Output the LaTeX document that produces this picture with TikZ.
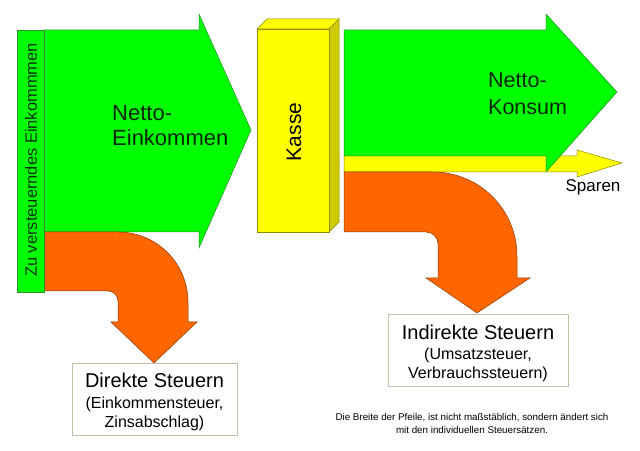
\documentclass[tikz,border=0pt]{standalone}
\usepackage{fontspec}
\setmainfont{Liberation Sans}
\definecolor{lgreen}{HTML}{00FF00}
\definecolor{gline}{HTML}{2E8B2E}
\definecolor{orng}{HTML}{FF6600}
\definecolor{oline}{HTML}{8B3A00}
\definecolor{ylw}{HTML}{FFFF00}
\definecolor{yside}{HTML}{CCCC00}
\definecolor{yline}{HTML}{8C8C00}
\definecolor{boxline}{HTML}{C8BEA8}
\tikzset{
  greenshape/.style={fill=lgreen, draw=gline, line width=0.5pt, line join=miter},
  orangeshape/.style={fill=orng, draw=oline, line width=0.5pt},
  yellowshape/.style={fill=ylw, draw=yline, line width=0.5pt},
  infobox/.style={draw=boxline, fill=white, line width=0.8pt, inner sep=0pt},
  bigtxt/.style={font=\fontsize{20}{24}\selectfont, inner sep=0pt},
  smalltxt/.style={font=\fontsize{16}{19}\selectfont, inner sep=0pt},
}
\begin{document}
\begin{tikzpicture}[x=1pt,y=1pt]
\useasboundingbox (0,0) rectangle (640,450);
\fill[white] (0,0) rectangle (640,450);

% left arrow: Netto-Einkommen
\draw[greenshape] (44,420) -- (199,420) -- (199,436) -- (251,320) -- (199,202) -- (199,218) -- (44,218) -- cycle;
% left orange bent arrow
\draw[orangeshape] (44,218) -- (118,218) arc[start angle=90, end angle=0, radius=70] -- (188,128) -- (197,128) -- (154,87) -- (111,128) -- (118,128) -- (118,149) arc[start angle=0, end angle=90, radius=10] -- (44,159) -- cycle;
% narrow green bar
\draw[greenshape] (17,158) rectangle (44,420);
\node[rotate=90, font=\fontsize{16.5}{19}\selectfont, inner sep=0pt, text=black!80!green] (zve) at (31,290) {Zu versteuerndes Einkommmen};
\node[bigtxt, font=\fontsize{22}{25}\selectfont, align=left, anchor=west, text=black!85!green] (ne) at (112,324.5) {Netto-\\Einkommen};

% Kasse box
\draw[yellowshape] (257,421) -- (267,431) -- (339,431) -- (329,421) -- cycle;
\draw[yellowshape, fill=yside] (329,421) -- (339,431) -- (339,228) -- (329,218) -- cycle;
\draw[yellowshape] (257,218) rectangle (329,421);
\node[rotate=90, font=\fontsize{21}{24}\selectfont, inner sep=0pt] (kasse) at (294,318) {Kasse};

% yellow Sparen arrow
\draw[yellowshape] (344,294) -- (577,294) -- (577,300) -- (622,287) -- (577,273) -- (577,278) -- (344,278) -- cycle;
% green Netto-Konsum arrow
\draw[greenshape] (344,420) -- (546,420) -- (546,436) -- (617,358) -- (546,278) -- (546,294) -- (344,294) -- cycle;
\node[font=\fontsize{21.5}{27}\selectfont, inner sep=0pt, align=left, anchor=west, text=black!85!green] (nk) at (488,356.5) {Netto-\\Konsum};
\node[font=\fontsize{17}{20}\selectfont, inner sep=0pt] (sparen) at (593,263) {Sparen};

% right orange bent arrow
\draw[orangeshape] (344,278) -- (433,278) arc[start angle=90, end angle=0, radius=84] -- (517,172) -- (530,172) -- (477,137) -- (426,172) -- (438,172) -- (438,206) arc[start angle=0, end angle=90, radius=12] -- (344,218) -- cycle;

% Direkte Steuern box
\node[infobox, minimum width=165pt, minimum height=72pt] (dbox) at (154.5,51) {};
\node[bigtxt] (dt) at (154.5,70) {Direkte Steuern};
\node[smalltxt] (d1) at (154.5,46) {(Einkommensteuer,};
\node[smalltxt] (d2) at (154.5,27) {Zinsabschlag)};

% Indirekte Steuern box
\node[infobox, minimum width=180pt, minimum height=72pt] (ibox) at (478,100) {};
\node[bigtxt] (it) at (478,118) {Indirekte Steuern};
\node[smalltxt] (i1) at (478,95) {(Umsatzsteuer,};
\node[smalltxt] (i2) at (478,76) {Verbrauchssteuern)};

% footnote
\node[font=\fontsize{9.8}{13}\selectfont, align=center, inner sep=0pt] (note) at (472,26.5) {Die Breite der Pfeile, ist nicht maßstäblich, sondern ändert sich\\mit den individuellen Steuersätzen.};
\end{tikzpicture}
\end{document}
